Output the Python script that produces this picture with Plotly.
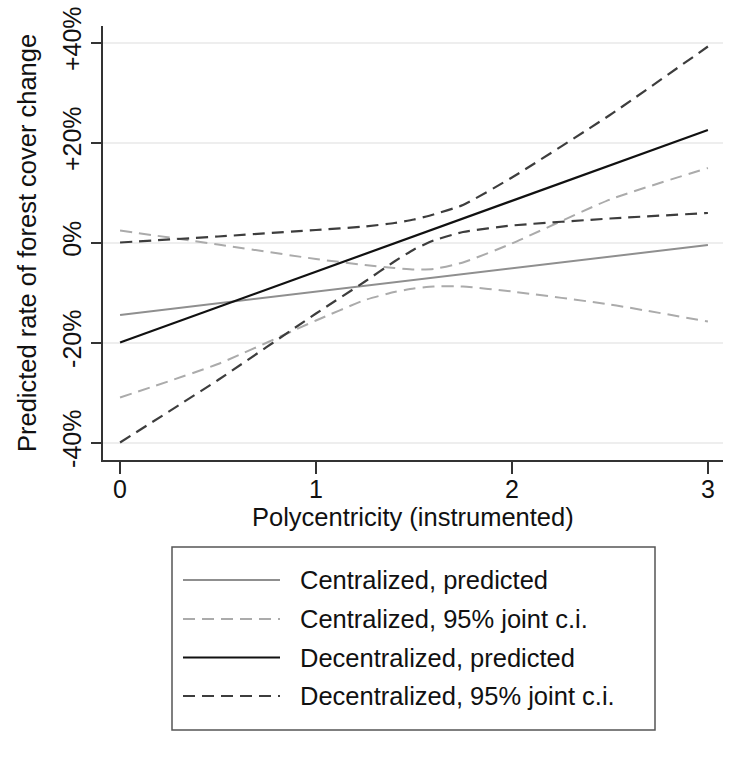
import plotly.graph_objects as go

# ---- data ----
x_grid = [0, 0.5, 1.0, 1.25, 1.4, 1.5, 1.6, 1.75, 2.0, 2.5, 3.0]
cent_pred_x = [0, 3]
cent_pred = [-14.5, -0.5]
cent_hi = [2.4, -0.4, -3.3, -4.5, -5.1, -5.4, -5.3, -4.0, -0.2, 8.6, 14.9]
cent_lo = [-31.0, -24.3, -15.6, -11.5, -9.9, -9.2, -8.8, -8.8, -9.8, -12.4, -15.8]
dec_pred_x = [0, 3]
dec_pred = [-20.0, 22.5]
dec_hi = [0.0, 1.2, 2.5, 3.2, 3.9, 4.6, 5.6, 7.5, 13.0, 25.5, 39.2]
dec_lo = [-40.0, -27.5, -14.2, -7.8, -3.8, -1.4, 0.4, 2.1, 3.4, 4.8, 5.9]

y_ticks = [-40, -20, 0, 20, 40]
y_ticktext = ["-40%", "-20%", "0%", "+20%", "+40%"]
x_ticks = [0, 1, 2, 3]

legend_labels = ["Centralized, predicted", "Centralized, 95% joint c.i.",
                 "Decentralized, predicted", "Decentralized, 95% joint c.i."]
x_title = "Polycentricity (instrumented)"
y_title = "Predicted rate of forest cover change"

# ---- styles ----
C_PRED = "#8f8f8f"
C_CI = "#ababab"
D_PRED = "#111111"
D_CI = "#3d3d3d"
DASH = "12px,7px"
FONT = "Liberation Sans, Arial, Helvetica, sans-serif"
FS = 25

W, H = 737, 762
ML, MR, MT, MB = 103, 14, 26, 302
PW, PH = W - ML - MR, H - MT - MB

fig = go.Figure()
line_kw = dict(mode="lines", showlegend=False, hoverinfo="skip")
fig.add_trace(go.Scatter(x=x_grid, y=cent_hi, line=dict(color=C_CI, width=2, dash=DASH, shape="spline", smoothing=0.5), **line_kw))
fig.add_trace(go.Scatter(x=x_grid, y=cent_lo, line=dict(color=C_CI, width=2, dash=DASH, shape="spline", smoothing=0.5), **line_kw))
fig.add_trace(go.Scatter(x=cent_pred_x, y=cent_pred, line=dict(color=C_PRED, width=2), **line_kw))
fig.add_trace(go.Scatter(x=x_grid, y=dec_hi, line=dict(color=D_CI, width=2.2, dash=DASH, shape="spline", smoothing=0.5), **line_kw))
fig.add_trace(go.Scatter(x=x_grid, y=dec_lo, line=dict(color=D_CI, width=2.2, dash=DASH, shape="spline", smoothing=0.5), **line_kw))
fig.add_trace(go.Scatter(x=dec_pred_x, y=dec_pred, line=dict(color=D_PRED, width=2.2), **line_kw))

def px2paper(px, py):
    return (px - ML) / PW, (H - MB - py) / PH

# ---- custom legend (Stata style) ----
shapes = []
annotations = []
bx0, by0 = px2paper(172, 547)
bx1, by1 = px2paper(655, 730)
shapes.append(dict(type="rect", xref="paper", yref="paper", x0=bx0, y0=by1, x1=bx1, y1=by0,
                   line=dict(color="#555555", width=1.5), fillcolor="white", layer="above"))
leg_styles = [(C_PRED, 2, "solid"), (C_CI, 2, DASH), (D_PRED, 2.2, "solid"), (D_CI, 2.2, DASH)]
row_y = [580, 619, 657.5, 696]
for lab, (col, wd, ds), ry in zip(legend_labels, leg_styles, row_y):
    lx0, ly = px2paper(183, ry)
    lx1, _ = px2paper(280, ry)
    shapes.append(dict(type="line", xref="paper", yref="paper", x0=lx0, x1=lx1, y0=ly, y1=ly,
                       line=dict(color=col, width=wd, dash=ds), layer="above"))
    tx, _ = px2paper(298, ry)
    annotations.append(dict(text=lab, xref="paper", yref="paper", x=tx, y=ly, xanchor="left",
                            yanchor="middle", showarrow=False,
                            font=dict(family=FONT, size=FS + 0.5, color="#111111")))

# axis titles
ytx, yty = px2paper(27, 243)
annotations.append(dict(text=y_title, xref="paper", yref="paper", x=ytx, y=yty, textangle=-90,
                        xanchor="center", yanchor="middle", showarrow=False,
                        font=dict(family=FONT, size=FS + 0.5, color="#111111")))
xtx, xty = px2paper(413, 517)
annotations.append(dict(text=x_title, xref="paper", yref="paper", x=xtx, y=xty,
                        xanchor="center", yanchor="middle", showarrow=False,
                        font=dict(family=FONT, size=FS + 0.5, color="#111111")))

fig.update_layout(
    width=W, height=H,
    margin=dict(l=ML, r=MR, t=MT, b=MB, pad=0),
    paper_bgcolor="white", plot_bgcolor="white",
    font=dict(family=FONT, color="#111111"),
    shapes=shapes, annotations=annotations,
    showlegend=False,
)
fig.update_xaxes(
    range=[-0.087, 3.077], tickvals=x_ticks, ticks="outside", ticklen=12, tickwidth=1.5,
    tickcolor="#333333", showline=True, linecolor="#333333", linewidth=1.5,
    showgrid=False, zeroline=False, tickfont=dict(family=FONT, size=FS, color="#111111"),
    ticklabelstandoff=-6, automargin=False,
)
fig.update_yaxes(
    range=[-43.5, 43.3], tickvals=y_ticks, ticktext=y_ticktext, tickangle=-90,
    ticks="outside", ticklen=10, tickwidth=1.5, tickcolor="#333333",
    showline=True, linecolor="#333333", linewidth=1.5,
    showgrid=True, gridcolor="#eeeeee", gridwidth=1.5, zeroline=False,
    tickfont=dict(family=FONT, size=FS, color="#111111"), automargin=False,
)

fig.write_html("out.html")
